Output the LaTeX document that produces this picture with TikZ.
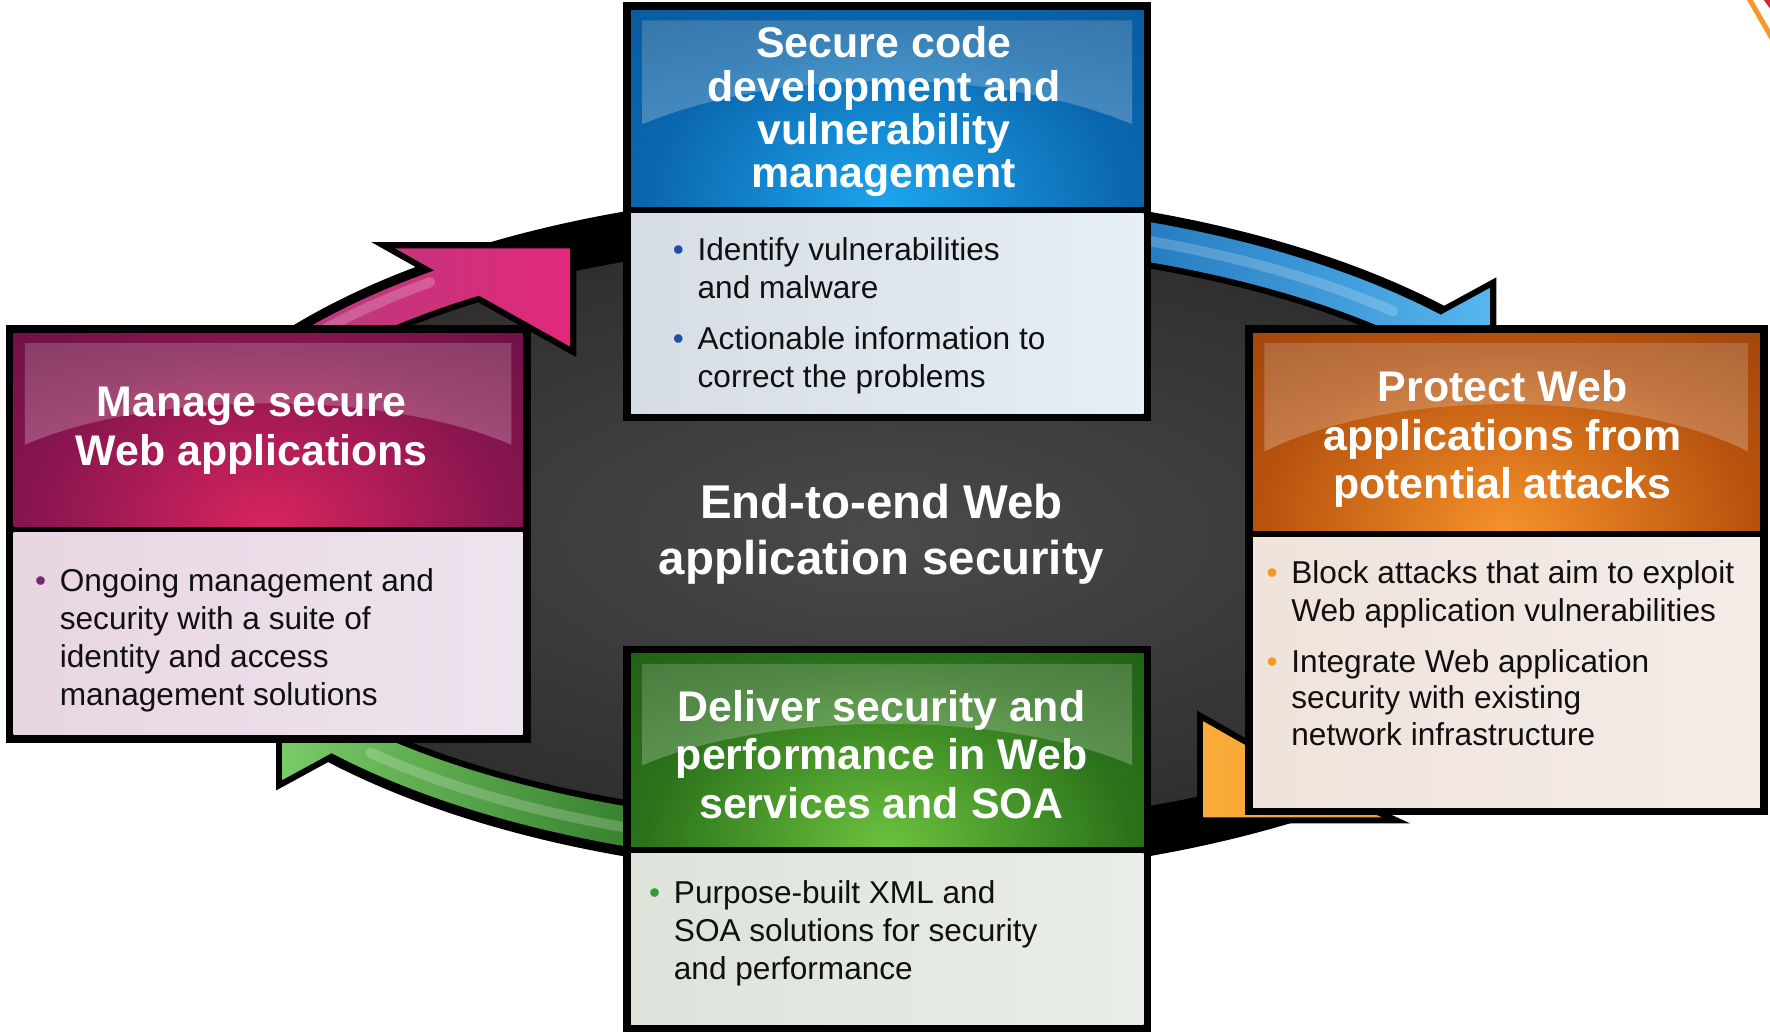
\documentclass[tikz,border=0pt]{standalone}
\usepackage{fontspec}
\setmainfont{Liberation Sans}
\definecolor{bGlow}{HTML}{1DA6EE}
\definecolor{bMid}{HTML}{0A66AE}
\definecolor{bEdge}{HTML}{054279}
\definecolor{pGlow}{HTML}{D8245E}
\definecolor{pMid}{HTML}{86154F}
\definecolor{pEdge}{HTML}{380732}
\definecolor{oGlow}{HTML}{F6922A}
\definecolor{oMid}{HTML}{B8530E}
\definecolor{oEdge}{HTML}{702903}
\definecolor{gGlow}{HTML}{6CC23E}
\definecolor{gMid}{HTML}{2A721A}
\definecolor{gEdge}{HTML}{0A3808}
\definecolor{dCenter}{HTML}{4A4A4A}
\definecolor{dMid}{HTML}{2C2C2C}
\definecolor{dEdge}{HTML}{080808}
\definecolor{bBodyL}{HTML}{D6DDE4}
\definecolor{bBodyR}{HTML}{E6EEF6}
\definecolor{pBodyL}{HTML}{E8D6E2}
\definecolor{pBodyR}{HTML}{EDE4EE}
\definecolor{oBodyL}{HTML}{EFE3DB}
\definecolor{oBodyR}{HTML}{F5ECE8}
\definecolor{gBodyL}{HTML}{DDE3DA}
\definecolor{gBodyR}{HTML}{E9EDE7}
\definecolor{bBul}{HTML}{1E4FA6}
\definecolor{pBul}{HTML}{7A2872}
\definecolor{oBul}{HTML}{F29A22}
\definecolor{gBul}{HTML}{2E9E2E}
\definecolor{arPinkA}{HTML}{A8427E}
\definecolor{arPinkB}{HTML}{E2287A}
\definecolor{arBlueA}{HTML}{0A5AA6}
\definecolor{arBlueB}{HTML}{56B6EE}
\definecolor{arOrA}{HTML}{F9AC3A}
\definecolor{arOrB}{HTML}{EE8E22}
\definecolor{arGrA}{HTML}{7ACA68}
\definecolor{arGrB}{HTML}{125810}
\definecolor{txt}{HTML}{101010}
\definecolor{cornerOr}{HTML}{F39A2A}
\definecolor{cornerRed}{HTML}{D8203C}
\pgfdeclareradialshading{diskshade}{\pgfpoint{0bp}{0bp}}{color(0bp)=(dCenter); color(28bp)=(dMid); color(50bp)=(dEdge)}
\pgfdeclareradialshading{blueglow}{\pgfpoint{0bp}{0bp}}{color(0bp)=(bGlow); color(18bp)=(bMid); color(50bp)=(bEdge)}
\pgfdeclareradialshading{purpleglow}{\pgfpoint{0bp}{0bp}}{color(0bp)=(pGlow); color(18bp)=(pMid); color(50bp)=(pEdge)}
\pgfdeclareradialshading{orangeglow}{\pgfpoint{0bp}{0bp}}{color(0bp)=(oGlow); color(18bp)=(oMid); color(50bp)=(oEdge)}
\pgfdeclareradialshading{greenglow}{\pgfpoint{0bp}{0bp}}{color(0bp)=(gGlow); color(18bp)=(gMid); color(50bp)=(gEdge)}
\begin{document}
\begin{tikzpicture}[x=1pt,y=-1pt,
  hdrtxt/.style={text=white, align=center, inner sep=0pt, outer sep=0pt, anchor=north, font=\bfseries\fontsize{38}{#1}\selectfont},
  hdrtxt/.default=43,
  ctrtxt/.style={text=white, align=center, inner sep=0pt, outer sep=0pt, anchor=north, font=\bfseries\fontsize{42}{50}\selectfont},
  bodytxt/.style={text=txt, align=left, inner sep=0pt, outer sep=0pt, anchor=north west, font=\fontsize{28}{#1}\selectfont},
  bodytxt/.default=33,
  bul/.style={text=#1, inner sep=0pt, outer sep=0pt, anchor=base, font=\fontsize{28}{33}\selectfont},
  arrowfill/.style={preaction={draw=black, line width=11pt, line join=miter, miter limit=6}},
  shine/.style={draw=white, draw opacity=0.2, line width=9pt, line cap=round},
  gloss/.style={top color=white!80!black, bottom color=white, fill opacity=0.24},
  frame/.style={fill=black}]
\useasboundingbox (0,0) rectangle (1568,914);
\fill[white] (0,0) rectangle (1568,914);

% corner decoration
\fill[cornerRed] (1561,-2) -- (1572,-2) -- (1572,13) -- cycle;
\draw[cornerOr, line width=4.5pt] (1549,-2) -- (1571,36);

% ring and disk
\fill[black] (785,473) ellipse [x radius=660pt, y radius=305pt];
\shade[shading=diskshade] (785,473) ellipse [x radius=618pt, y radius=260pt];

% pink arrow
\path[arrowfill, left color=arPinkA, right color=arPinkB]
  plot[domain=200:232.06, samples=40, variable=\t] ({785+651*cos(\t)},{473+296*sin(\t)})
  -- (350,220) -- (505,220) -- (505,307)
  -- plot[domain=234.3:200, samples=40, variable=\t] ({785+618*cos(\t)},{473+260*sin(\t)})
  -- cycle;
\path[shine] plot[domain=205:231, samples=30, variable=\t] ({785+642*cos(\t)},{473+287*sin(\t)});
% blue arrow
\path[arrowfill, left color=arBlueA, right color=arBlueB]
  plot[domain=-85:-41, samples=40, variable=\t] ({785+651*cos(\t)},{473+296*sin(\t)})
  -- (1320,255) -- (1320,331) -- (1186,331)
  -- plot[domain=-42:-85, samples=40, variable=\t] ({785+618*cos(\t)},{473+260*sin(\t)})
  -- cycle;
\path[shine] plot[domain=-80:-45, samples=30, variable=\t] ({785+635*cos(\t)},{473+279*sin(\t)});
% orange arrow
\path[arrowfill, left color=arOrA, right color=arOrB]
  plot[domain=10:52.06, samples=40, variable=\t] ({785+651*cos(\t)},{473+296*sin(\t)})
  -- (1224,724) -- (1066,724) -- (1066,639)
  -- plot[domain=54.3:10, samples=40, variable=\t] ({785+618*cos(\t)},{473+260*sin(\t)})
  -- cycle;
% green arrow
\path[arrowfill, left color=arGrA, right color=arGrB]
  plot[domain=95:139, samples=40, variable=\t] ({785+651*cos(\t)},{473+296*sin(\t)})
  -- (250,691) -- (250,615) -- (384,615)
  -- plot[domain=138:95, samples=40, variable=\t] ({785+618*cos(\t)},{473+260*sin(\t)})
  -- cycle;
\path[shine] plot[domain=100:136, samples=30, variable=\t] ({785+635*cos(\t)},{473+279*sin(\t)});

% ---------- blue box ----------
\fill[frame] (552,2) rectangle (1020,373);
\begin{scope}
  \clip (559,9) rectangle (1013,183);
  \shade[shading=blueglow] (486,-37) rectangle (1086,403);
  \path[gloss] (569,18) -- (1003,18) -- (1003,110) .. controls (880,59) and (692,59) .. (569,110) -- cycle;
\end{scope}
\shade[left color=bBodyL, right color=bBodyR] (559,189) rectangle (1013,366);

% ---------- purple box ----------
\fill[frame] (5,288) rectangle (470,658);
\begin{scope}
  \clip (12,295) rectangle (463,466);
  \shade[shading=purpleglow] (-63,246) rectangle (537,686);
  \path[gloss] (22,304) -- (453,304) -- (453,394) .. controls (340,345) and (135,345) .. (22,394) -- cycle;
\end{scope}
\shade[left color=pBodyL, right color=pBodyR] (12,472) rectangle (463,651);

% ---------- orange box ----------
\fill[frame] (1103,288) rectangle (1566,722);
\begin{scope}
  \clip (1110,295) rectangle (1559,470);
  \shade[shading=orangeglow] (1034,250) rectangle (1634,690);
  \path[gloss] (1120,304) -- (1549,304) -- (1549,400) .. controls (1436,344) and (1233,344) .. (1120,400) -- cycle;
\end{scope}
\shade[left color=oBodyL, right color=oBodyR] (1110,476) rectangle (1559,715);

% ---------- green box ----------
\fill[frame] (552,572) rectangle (1020,920);
\begin{scope}
  \clip (559,579) rectangle (1013,750);
  \shade[shading=greenglow] (486,530) rectangle (1086,970);
  \path[gloss] (569,588) -- (1003,588) -- (1003,678) .. controls (890,629) and (682,629) .. (569,678) -- cycle;
\end{scope}
\shade[left color=gBodyL, right color=gBodyR] (559,756) rectangle (1013,908);

% ---------- texts ----------
\node[hdrtxt=38.5] (secTitle) at (783,21) {\rule{0pt}{30pt}Secure code\\development and\\vulnerability\\management};
\node[bul=bBul] (secB1) at (601,231) {•};
\node[bodytxt] (secT1) at (618,209) {\rule{0pt}{22pt}Identify vulnerabilities\\and malware};
\node[bul=bBul] (secB2) at (601,310) {•};
\node[bodytxt] (secT2) at (618,288) {\rule{0pt}{22pt}Actionable information to\\correct the problems};

\node[ctrtxt] (centerTitle) at (781,426) {\rule{0pt}{33pt}End-to-end Web\\application security};

\node[hdrtxt=43] (mgTitle) at (223,339) {\rule{0pt}{30pt}Manage secure\\Web applications};
\node[bul=pBul] (mgB1) at (36,524) {•};
\node[bodytxt=33.7] (mgT1) at (53,502) {\rule{0pt}{22pt}Ongoing management and\\security with a suite of\\identity and access\\management solutions};

\node[hdrtxt=43] (prTitle) at (1331,326) {\rule{0pt}{30pt}Protect Web\\applications from\\potential attacks};
\node[bul=oBul] (prB1) at (1127,517) {•};
\node[bodytxt=34] (prT1) at (1144,495) {\rule{0pt}{22pt}Block attacks that aim to exploit\\Web application vulnerabilities};
\node[bul=oBul] (prB2) at (1127,596) {•};
\node[bodytxt=32] (prT2) at (1144,574) {\rule{0pt}{22pt}Integrate Web application\\security with existing\\network infrastructure};

\node[hdrtxt=43] (dlTitle) at (781,609) {\rule{0pt}{30pt}Deliver security and\\performance in Web\\services and SOA};
\node[bul=gBul] (dlB1) at (580,800) {•};
\node[bodytxt=34] (dlT1) at (597,778) {\rule{0pt}{22pt}Purpose-built XML and\\SOA solutions for security\\and performance};
\end{tikzpicture}
\end{document}
